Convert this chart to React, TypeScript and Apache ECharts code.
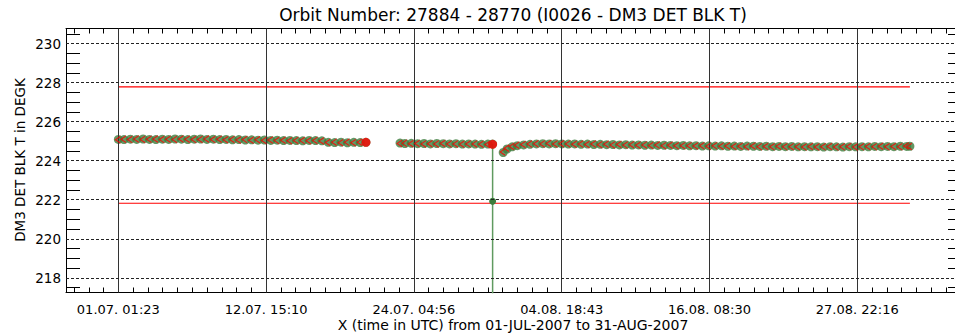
import React, { useEffect, useRef } from 'react';
import * as echarts from 'echarts';

const TITLE = 'Orbit Number: 27884 - 28770 (I0026 - DM3 DET BLK T)';
const X_NAME = 'X (time in UTC) from 01-JUL-2007 to 31-AUG-2007';
const Y_NAME = 'DM3 DET BLK T in DEGK';
const FONT = 'DejaVu Sans';

// x values: days since 01-JUL-2007 00:00 UTC
const xTickValues = [0.0576, 11.6317, 23.2058, 34.7799, 46.354, 57.9281];
const xTickLabels = ['01.07. 01:23', '12.07. 15:10', '24.07. 04:56', '04.08. 18:43', '16.08. 08:30', '27.08. 22:16'];
const xMinorPerMajor = 10;
const xMin = -4.04;
const xMax = 66.13;

const yTickValues = [218, 220, 222, 224, 226, 228, 230];
const yMinorStep = 0.5;
const yMin = 217.25;
const yMax = 230.77;

const limitTimes = [0.06, 62.05];
const upperLimit = 227.78;
const lowerLimit = 221.82;

const segATimes = [0.06, 0.5, 1.0, 1.5, 2.0, 2.5, 3.0, 3.5, 4.0, 4.5, 5.0, 5.5, 6.0, 6.5, 7.0, 7.5, 8.0, 8.5, 9.0, 9.5, 10.0, 10.5, 11.0, 11.5, 12.0, 12.5, 13.0, 13.5, 14.0, 14.5, 15.0, 15.5, 16.0, 16.5, 17.0, 17.5, 18.0, 18.5, 19.0, 19.45];
const segAGreen = [
  225.09, 225.08, 225.10, 225.09, 225.11, 225.09, 225.08, 225.10, 225.09, 225.11,
  225.10, 225.08, 225.10, 225.11, 225.09, 225.10, 225.08, 225.09, 225.07, 225.08,
  225.06, 225.07, 225.05, 225.06, 225.04, 225.05, 225.03, 225.04, 225.03, 225.02,
  225.04, 225.03, 225.02, 224.94, 224.93, 224.95, 224.92, 224.94, 224.93, 224.94,
];
const segARed = [
  225.07, 225.10, 225.08, 225.11, 225.09, 225.10, 225.11, 225.08, 225.10, 225.09,
  225.11, 225.10, 225.08, 225.09, 225.11, 225.08, 225.10, 225.07, 225.09, 225.06,
  225.08, 225.05, 225.07, 225.04, 225.06, 225.03, 225.05, 225.02, 225.04, 225.03,
  225.02, 225.04, 225.01, 224.93, 224.95, 224.92, 224.94, 224.92, 224.95, 224.94,
];

const segBTimes = [22.12, 22.5, 23.0, 23.5, 24.0, 24.5, 25.0, 25.5, 26.0, 26.5, 27.0, 27.5, 28.0, 28.5, 29.0, 29.37];
const segBGreen = [224.90, 224.88, 224.89, 224.87, 224.88, 224.86, 224.88, 224.87, 224.86, 224.87, 224.85, 224.86, 224.85, 224.84, 224.85, 224.85];
const segBRed = [224.88, 224.89, 224.87, 224.88, 224.86, 224.87, 224.86, 224.88, 224.85, 224.86, 224.84, 224.85, 224.86, 224.84, 224.83, 224.84];

const dropTimes = [29.37, 29.37, 29.37];
const dropValues = [224.85, 221.92, 216.0];

const segCTimes = [
  30.2, 30.5, 30.9, 31.3, 31.8, 32.3, 32.8, 33.3, 33.8, 34.3, 34.8, 35.3, 35.8, 36.3,
  36.8, 37.3, 37.8, 38.3, 38.8, 39.3, 39.8, 40.3, 40.8, 41.3, 41.8, 42.3, 42.8, 43.3,
  43.8, 44.3, 44.8, 45.3, 45.8, 46.3, 46.8, 47.3, 47.8, 48.3, 48.8, 49.3, 49.8, 50.3,
  50.8, 51.3, 51.8, 52.3, 52.8, 53.3, 53.8, 54.3, 54.8, 55.3, 55.8, 56.3, 56.8, 57.3,
  57.8, 58.3, 58.8, 59.3, 59.8, 60.3, 60.8, 61.3, 61.8, 62.05,
];
const segCGreen = [
  224.42, 224.60, 224.71, 224.77,
  224.81, 224.84, 224.86, 224.87, 224.86, 224.87, 224.86, 224.85, 224.86, 224.84,
  224.85, 224.83, 224.84, 224.82, 224.83, 224.81, 224.82, 224.80, 224.81, 224.79,
  224.80, 224.78, 224.79, 224.78, 224.77, 224.78, 224.76, 224.77, 224.75, 224.76,
  224.75, 224.76, 224.74, 224.75, 224.73, 224.75, 224.74, 224.73, 224.74, 224.72,
  224.73, 224.72, 224.73, 224.71, 224.72, 224.71, 224.72, 224.70, 224.72, 224.71,
  224.70, 224.72, 224.71, 224.72, 224.71, 224.73, 224.72, 224.73, 224.72, 224.74,
  224.73, 224.74,
];
const segCRed = [
  224.45, 224.64, 224.73, 224.79,
  224.83, 224.85, 224.87, 224.86, 224.88, 224.86, 224.87, 224.86, 224.84, 224.85,
  224.83, 224.85, 224.82, 224.84, 224.81, 224.83, 224.80, 224.82, 224.79, 224.81,
  224.78, 224.80, 224.77, 224.79, 224.76, 224.77, 224.77, 224.75, 224.76, 224.74,
  224.76, 224.74, 224.75, 224.73, 224.74, 224.72, 224.75, 224.72, 224.73, 224.71,
  224.74, 224.71, 224.72, 224.72, 224.70, 224.73, 224.70, 224.71, 224.73, 224.70,
  224.71, 224.73, 224.70, 224.71, 224.73, 224.72, 224.74, 224.71, 224.73, 224.72,
  224.75, 224.73,
];

const segments = [
  { times: segATimes, green: segAGreen, red: segARed, endDot: true },
  { times: segBTimes, green: segBGreen, red: segBRed, endDot: true },
  { times: segCTimes, green: segCGreen, red: segCRed, endDot: false },
];

const GREEN = '#3d7d3d';
const RED = '#ff0000';
const CHEVRON = 'path://M8,0L0,5L8,10L8,8.2L2.6,5L8,1.8Z';

function pairs(t: number[], v: number[]) {
  return t.map((x, i) => [x, v[i]]);
}

function buildOption() {
  const step = xTickValues[1] - xTickValues[0];
  const minorStep = step / xMinorPerMajor;
  const xAllTicks: number[] = [];
  const kStart = Math.ceil((xMin - xTickValues[0]) / minorStep);
  const kEnd = Math.floor((xMax - xTickValues[0]) / minorStep);
  for (let k = kStart; k <= kEnd; k++) xAllTicks.push(+(xTickValues[0] + k * minorStep).toFixed(5));

  const yMinor: number[] = [];
  for (let v = Math.ceil(yMin / yMinorStep) * yMinorStep; v <= yMax; v += yMinorStep) {
    if (!yTickValues.includes(v)) yMinor.push(v);
  }

  const xFmt = (v: number) => {
    const i = xTickValues.findIndex((t) => Math.abs(t - v) < 1e-3);
    return i >= 0 ? xTickLabels[i] : '';
  };

  const greenData = segments.flatMap((s) => pairs(s.times, s.green));
  const redData = segments.flatMap((s) =>
    pairs(s.times, s.red).map((p, i, arr) =>
      s.endDot && i === arr.length - 1
        ? { value: p, symbol: 'circle', symbolSize: 9, symbolOffset: [0, 0] }
        : { value: p }
    )
  );
  const dropData = pairs(dropTimes, dropValues).map((p, i) =>
    i === 1 ? { value: p, symbol: 'circle', symbolSize: 7 } : { value: p, symbol: 'none' }
  );

  const axisLine = { show: true, onZero: false, lineStyle: { color: '#000', width: 1 } };

  return {
    animation: false,
    backgroundColor: '#ffffff',
    textStyle: { fontFamily: FONT },
    grid: { left: 66, top: 28.5, width: 896, height: 264, containLabel: false, outerBoundsMode: 'none' },
    xAxis: [
      {
        type: 'value', position: 'bottom', min: xMin, max: xMax,
        axisLine,
        axisTick: { show: true, inside: true, length: 5, customValues: xAllTicks, lineStyle: { color: '#000' } },
        axisLabel: { show: true, customValues: xTickValues, formatter: xFmt, color: '#000', fontSize: 13, fontFamily: FONT, margin: 10 },
        splitLine: { show: false },
      },
      {
        type: 'value', position: 'top', min: xMin, max: xMax,
        axisLine,
        axisTick: { show: true, inside: true, length: 5, customValues: xAllTicks, lineStyle: { color: '#000' } },
        axisLabel: { show: false },
        splitLine: { show: false },
      },
    ],
    yAxis: [
      {
        type: 'value', position: 'left', min: yMin, max: yMax,
        axisLine,
        axisTick: { show: true, inside: true, length: 14, customValues: yMinor, lineStyle: { color: '#000' } },
        axisLabel: { show: true, customValues: yTickValues, formatter: (v: number) => String(v), color: '#000', fontSize: 13.5, fontFamily: FONT, margin: 5 },
        splitLine: { show: false },
      },
      {
        type: 'value', position: 'right', min: yMin, max: yMax,
        axisLine,
        axisTick: { show: true, inside: true, length: 14, customValues: yMinor, lineStyle: { color: '#000' } },
        axisLabel: { show: false },
        splitLine: { show: false },
      },
    ],
    graphic: [
      { type: 'text', x: 513, y: 15, silent: true, style: { text: TITLE, fill: '#000', font: `17px "${FONT}"`, fontSize: 17, fontFamily: FONT, align: 'center', verticalAlign: 'middle', textAlign: 'center', textVerticalAlign: 'middle' } },
      { type: 'text', x: 513, y: 325, silent: true, style: { text: X_NAME, fill: '#000', font: `14px "${FONT}"`, fontSize: 14, fontFamily: FONT, align: 'center', verticalAlign: 'middle', textAlign: 'center', textVerticalAlign: 'middle' } },
      { type: 'text', x: 20, y: 160, rotation: Math.PI / 2, silent: true, style: { text: Y_NAME, fill: '#000', font: `13.5px "${FONT}"`, fontSize: 13.5, fontFamily: FONT, align: 'center', verticalAlign: 'middle', textAlign: 'center', textVerticalAlign: 'middle' } },
    ],
    series: [
      {
        name: 'upper limit', type: 'line', z: 2, data: pairs(limitTimes, [upperLimit, upperLimit]),
        symbol: 'none', lineStyle: { color: RED, width: 1.2 }, silent: true,
        markLine: {
          silent: true, symbol: ['none', 'none'], label: { show: false }, animation: false,
          data: [
            ...xTickValues.map((v) => ({ xAxis: v, lineStyle: { color: '#333', width: 1, type: 'solid' } })),
            ...yTickValues.map((v) => ({ yAxis: v, lineStyle: { color: '#222', width: 1, type: [3, 2] } })),
          ],
        },
      },
      {
        name: 'lower limit', type: 'line', z: 2, data: pairs(limitTimes, [lowerLimit, lowerLimit]),
        symbol: 'none', lineStyle: { color: RED, width: 1.2 }, silent: true,
      },
      {
        name: 'drop', type: 'line', z: 3, data: dropData, showSymbol: true,
        lineStyle: { color: '#5f9a5f', width: 1.5 }, itemStyle: { color: GREEN }, silent: true,
      },
      {
        name: 'green', type: 'scatter', z: 4, data: greenData, symbol: 'circle', symbolSize: 9,
        itemStyle: { color: GREEN }, silent: true,
      },
      {
        name: 'red', type: 'scatter', z: 5, data: redData, symbol: CHEVRON, symbolSize: [6, 8], symbolOffset: [-1, 0],
        itemStyle: { color: RED }, silent: true,
      },
    ],
  };
}

export default function App() {
  const ref = useRef<HTMLDivElement>(null);
  useEffect(() => {
    if (!ref.current) return;
    const chart = echarts.init(ref.current, null, { renderer: 'svg' });
    chart.setOption(buildOption() as any);
    return () => chart.dispose();
  }, []);
  return (
    <div
      ref={ref}
      style={{ position: 'absolute', left: 0, top: 0, width: 955, height: 335, background: '#fff' }}
    />
  );
}
